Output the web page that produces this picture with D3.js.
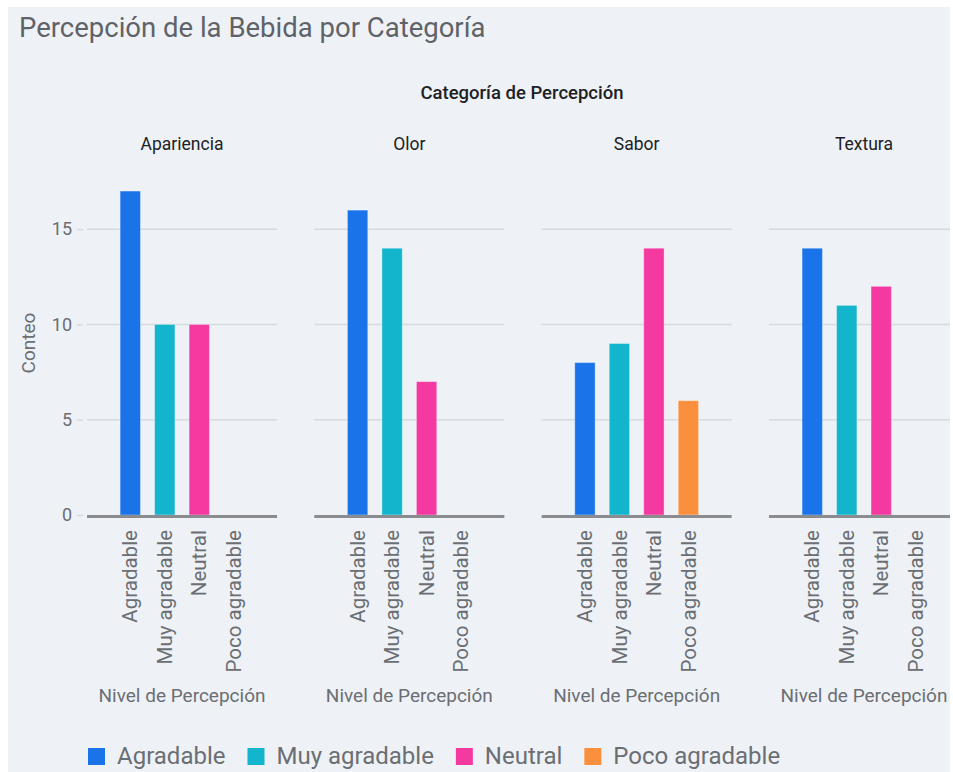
<!DOCTYPE html>
<html>
<head>
<meta charset="utf-8">
<script src="https://cdn.jsdelivr.net/npm/d3@7"></script>
<style>
  body { margin: 0; background: #fff; }
  svg text { font-family: Roboto, "Noto Sans", sans-serif; }
</style>
</head>
<body>
<div class="chart"></div>
<script>
// data
const categorias = ['Apariencia', 'Olor', 'Sabor', 'Textura'];
const niveles = ['Agradable', 'Muy agradable', 'Neutral', 'Poco agradable'];
const colores = ['#1a73e8', '#12b5cb', '#f439a0', '#fa903e'];
const agradable = [17, 16, 8, 14];
const muyAgradable = [10, 14, 9, 11];
const neutral = [10, 7, 14, 12];
const pocoAgradable = [0, 0, 6, 0];
const yTicks = [0, 5, 10, 15];

const series = [agradable, muyAgradable, neutral, pocoAgradable];
const rows = [];
categorias.forEach((c, i) => {
  niveles.forEach((n, j) => {
    if (series[j][i] > 0) rows.push({categoria: c, nivel: n, valor: series[j][i]});
  });
});

const width = 953, height = 772;
const svg = d3.select('.chart')
  .append('svg')
  .attr('width', width)
  .attr('height', height);

svg.append('defs').append('clipPath').attr('id', 'bgclip')
  .append('rect').attr('x', 8).attr('y', 7).attr('width', 942).attr('height', 765);

const root = svg.append('g').attr('clip-path', 'url(#bgclip)');

root.append('rect')
  .attr('x', 8).attr('y', 7)
  .attr('width', 942).attr('height', 765)
  .attr('fill', '#eef2f7');

// title
root.append('text')
  .attr('x', 19).attr('y', 37)
  .attr('font-size', 27.5)
  .attr('fill', '#5f6368')
  .text('Percepción de la Bebida por Categoría');

root.append('text')
  .attr('x', 522).attr('y', 99)
  .attr('text-anchor', 'middle')
  .attr('font-size', 18.5)
  .attr('font-weight', 500)
  .attr('fill', '#202124')
  .text('Categoría de Percepción');

let facet = d3.scaleBand()
  .domain(categorias)
  .range([87, 959])
  .paddingInner(0.164);

let xScale = d3.scaleBand()
  .domain(niveles)
  .range([0, facet.bandwidth()])
  .paddingInner(0.41)
  .paddingOuter(0.96);

let yScale = d3.scaleLinear()
  .domain([0, 18])
  .range([515, 172]);

categorias.forEach((c, i) => {
  const g = root.append('g')
    .attr('transform', `translate(${facet(c)}, 0)`);

  g.append('text')
    .attr('x', facet.bandwidth() / 2).attr('y', 150)
    .attr('text-anchor', 'middle')
    .attr('font-size', 17.5)
    .attr('fill', '#202124')
    .text(c);

  // grid
  g.selectAll('.grid')
    .data(yTicks.filter(t => t > 0))
    .enter()
    .append('line')
    .attr('x1', 0).attr('x2', facet.bandwidth())
    .attr('y1', d => yScale(d)).attr('y2', d => yScale(d))
    .attr('stroke', '#d6d9de')
    .attr('stroke-width', 1.5);

  // bars
  g.selectAll('.bar')
    .data(rows.filter(r => r.categoria === c))
    .enter()
    .append('rect')
    .attr('x', d => xScale(d.nivel))
    .attr('y', d => yScale(d.valor))
    .attr('width', xScale.bandwidth())
    .attr('height', d => yScale(0) - yScale(d.valor))
    .attr('fill', d => colores[niveles.indexOf(d.nivel)])
    .attr('stroke', 'rgba(255,255,255,0.35)')
    .attr('stroke-width', 1);

  // baseline
  g.append('line')
    .attr('x1', 0).attr('x2', facet.bandwidth())
    .attr('y1', yScale(0) + 1.5).attr('y2', yScale(0) + 1.5)
    .attr('stroke', '#8a8c8f')
    .attr('stroke-width', 3);

  // x labels
  const xAxis = g.append('g')
    .attr('transform', `translate(0, ${yScale(0)})`)
    .call(d3.axisBottom(xScale).tickSize(0).tickPadding(0));
  xAxis.select('.domain').remove();
  xAxis.selectAll('text')
    .attr('transform', 'rotate(-90)')
    .attr('x', -15).attr('y', 0)
    .attr('dy', '0.35em')
    .attr('text-anchor', 'end')
    .attr('font-size', 20.5)
    .attr('font-family', 'Roboto')
    .attr('fill', '#6b6e72');

  g.append('text')
    .attr('x', facet.bandwidth() / 2).attr('y', 702)
    .attr('text-anchor', 'middle')
    .attr('font-size', 19)
    .attr('fill', '#6b6e72')
    .text('Nivel de Percepción');

  if (i === 0) {
    const yAxis = g.append('g')
      .call(d3.axisLeft(yScale).tickValues(yTicks).tickSize(6).tickPadding(5));
    yAxis.select('.domain').remove();
    yAxis.attr('transform', 'translate(-4, 0)');
    yAxis.selectAll('line').attr('stroke', '#d6d9de').attr('stroke-width', 1.5);
    yAxis.selectAll('text')
      .attr('font-size', 18)
      .attr('font-family', 'Roboto')
      .attr('fill', '#6b6e72');
  }
});

root.append('text')
  .attr('transform', 'translate(35, 343) rotate(-90)')
  .attr('text-anchor', 'middle')
  .attr('font-size', 19)
  .attr('fill', '#6b6e72')
  .text('Conteo');

// legend
let lx = 88;
niveles.forEach((n, j) => {
  root.append('rect')
    .attr('x', lx).attr('y', 748)
    .attr('width', 17).attr('height', 17)
    .attr('fill', colores[j]);
  const t = root.append('text')
    .attr('x', lx + 29).attr('y', 764)
    .attr('font-size', 24)
    .attr('fill', '#6b6e72')
    .text(n);
  lx += 29 + t.node().getComputedTextLength() + 22;
});
</script>
</body>
</html>
